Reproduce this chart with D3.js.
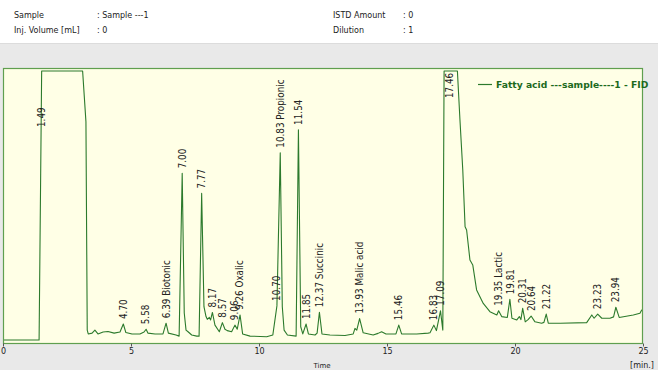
<!DOCTYPE html>
<html>
<head>
<meta charset="utf-8">
<script src="https://cdn.jsdelivr.net/npm/d3@7"></script>
<style>
  html, body { margin: 0; padding: 0; background: #e9e9e9; }
  svg { display: block; }
</style>
</head>
<body>
<svg id="chart" width="658" height="370"></svg>
<script>
// header info
const infoLeft = [["Sample", ": Sample ---1"], ["Inj. Volume [mL]", ": 0"]];
const infoRight = [["ISTD Amount", ": 0"], ["Dilution", ": 1"]];

// trace: retention time (min) and detector signal (% of full scale)
const traceTime = [0.00, 1.41, 1.51, 3.11, 3.24, 3.29, 3.33, 3.48, 3.59, 3.71, 3.91, 4.10, 4.34, 4.57, 4.70, 4.80,
  5.04, 5.35, 5.51, 5.59, 5.66, 5.94, 6.25, 6.37, 6.46, 6.76, 6.88, 7.00, 7.08, 7.15, 7.24, 7.37, 7.57, 7.66, 7.76,
  7.85, 7.93, 7.98, 8.06, 8.11, 8.18, 8.28, 8.45, 8.57, 8.67, 8.76, 8.93, 9.06, 9.15, 9.26, 9.36, 9.65, 10.30, 10.54,
  10.70, 10.83, 10.91, 10.98, 11.11, 11.45, 11.54, 11.63, 11.71, 11.84, 11.93, 12.19, 12.27, 12.36, 12.46, 12.77,
  13.36, 13.68, 13.75, 13.82, 13.93, 14.07, 14.46, 14.65, 14.79, 14.96, 15.12, 15.35, 15.46, 15.57, 16.16, 16.60,
  16.68, 16.83, 16.93, 17.09, 17.18, 17.23, 17.75, 17.85, 17.96, 18.05, 18.11, 18.24, 18.35, 18.50, 18.76, 19.02,
  19.29, 19.36, 19.48, 19.70, 19.80, 19.88, 20.07, 20.17, 20.23, 20.30, 20.40, 20.51, 20.63, 20.78, 21.04, 21.13,
  21.22, 21.30, 21.76, 22.80, 23.00, 23.09, 23.23, 23.39, 23.71, 23.85, 23.94, 24.07, 24.62, 24.88, 24.95, 25.00];
const traceSignal = [1.1, 1.1, 98.9, 98.9, 80.4, 4.7, 3.3, 3.6, 4.7, 3.3, 4.0, 4.2, 3.6, 4.0, 6.9, 3.8,
  3.3, 3.3, 4.0, 5.0, 3.6, 3.3, 3.3, 7.2, 3.6, 2.9, 2.5, 61.7, 10.9, 4.7, 4.0, 2.9, 2.5, 2.5, 54.4,
  13.2, 9.6, 8.6, 9.3, 8.4, 11.1, 6.5, 4.1, 7.4, 5.0, 4.5, 4.1, 6.5, 5.0, 10.2, 3.3, 2.5, 2.3, 2.9,
  13.5, 69.2, 13.2, 4.7, 2.9, 2.5, 77.5, 5.9, 3.3, 6.9, 3.3, 2.9, 3.6, 11.2, 3.3, 2.9,
  2.7, 3.3, 5.3, 4.7, 8.9, 3.7, 2.9, 3.5, 4.1, 3.3, 3.3, 3.3, 6.5, 3.3, 3.3, 3.6,
  3.7, 6.5, 4.5, 11.7, 4.7, 98.9, 98.9, 81.1, 62.9, 42.3, 41.1, 30.2, 28.4, 19.3, 14.4, 11.4,
  10.2, 11.7, 9.6, 9.3, 15.9, 9.0, 8.4, 9.6, 8.5, 12.6, 7.7, 8.5, 9.8, 7.7, 7.2, 7.5,
  10.5, 7.2, 7.2, 7.4, 10.2, 9.0, 10.5, 9.0, 9.0, 9.5, 13.0, 9.3, 10.2, 10.8, 12.0, 12.0];

// peak annotations
const peakTimes = [1.49, 4.70, 5.58, 6.39, 7.00, 7.77, 8.17, 8.57, 9.06, 9.26, 10.70, 10.83, 11.54, 11.85, 12.37,
  13.93, 15.46, 16.83, 17.09, 17.46, 19.35, 19.81, 20.31, 20.64, 21.22, 23.23, 23.94];
const peakNames = ["", "", "", "Biotonic", "", "", "", "", "", "Oxalic", "", "Propionic", "", "", "Succinic",
  "Malic acid", "", "", "", "", "Lactic", "", "", "", "", "", ""];

const xTicks = [0, 5, 10, 15, 20, 25];
const seriesName = "Fatty acid ---sample----1 - FID";

const svg = d3.select("#chart");
const W = 658, H = 370;
const plot = { left: 3, right: 643, top: 68, bottom: 343 };
const green = "#2c7a2c";

// header band
svg.append("rect").attr("x", 0).attr("y", 0).attr("width", W).attr("height", 43).attr("fill", "#ffffff");
svg.append("line").attr("x1", 0).attr("x2", W).attr("y1", 43.5).attr("y2", 43.5).attr("stroke", "#dcdcdc");

const info = svg.append("g").attr("font-family", "DejaVu Sans, sans-serif").attr("font-size", 8).attr("fill", "#222");
infoLeft.forEach((r, i) => {
  info.append("text").attr("x", 14).attr("y", 18 + i * 15).text(r[0]);
  info.append("text").attr("x", 97).attr("y", 18 + i * 15).text(r[1]);
});
infoRight.forEach((r, i) => {
  info.append("text").attr("x", 333).attr("y", 18 + i * 15).text(r[0]);
  info.append("text").attr("x", 403).attr("y", 18 + i * 15).text(r[1]);
});

// scales
const x = d3.scaleLinear().domain([0, 25]).range([plot.left, plot.right]);
const y = d3.scaleLinear().domain([0, 100]).range([plot.bottom, plot.top]);

// plot area
svg.append("rect")
  .attr("x", plot.left).attr("y", plot.top)
  .attr("width", plot.right - plot.left).attr("height", plot.bottom - plot.top)
  .attr("fill", "#ffffe6");

svg.append("clipPath").attr("id", "clip").append("rect")
  .attr("x", plot.left).attr("y", plot.top)
  .attr("width", plot.right - plot.left).attr("height", plot.bottom - plot.top);

const data = traceTime.map((t, i) => ({ t: t, v: traceSignal[i] }));
const line = d3.line().x(d => x(d.t)).y(d => y(d.v));

svg.append("path")
  .datum(data)
  .attr("clip-path", "url(#clip)")
  .attr("fill", "none")
  .attr("stroke", green)
  .attr("stroke-width", 1.1)
  .attr("stroke-linejoin", "round")
  .attr("d", line);

// border
svg.append("rect")
  .attr("x", plot.left + 0.5).attr("y", plot.top + 0.5)
  .attr("width", plot.right - plot.left - 1).attr("height", plot.bottom - plot.top)
  .attr("fill", "none").attr("stroke", "#5f9f4f").attr("stroke-width", 1.2);

// x axis
const xAxis = svg.append("g")
  .attr("transform", "translate(0," + (plot.bottom + 0.5) + ")")
  .call(d3.axisBottom(x).tickValues(xTicks).tickSize(3).tickPadding(2).tickFormat(d3.format("d")));
xAxis.select(".domain").remove();
xAxis.selectAll("line").attr("stroke", "#555");
xAxis.selectAll("text").attr("font-family", "DejaVu Sans, sans-serif").attr("font-size", 8).attr("fill", "#222");

svg.append("text").attr("x", 642).attr("y", 368).attr("text-anchor", "middle")
  .attr("font-family", "DejaVu Sans, sans-serif").attr("font-size", 8).attr("fill", "#222").text("[min.]");
svg.append("text").attr("x", 322).attr("y", 368).attr("text-anchor", "middle")
  .attr("font-family", "DejaVu Sans, sans-serif").attr("font-size", 7).attr("fill", "#222").text("Time");

// peak labels, placed above the apex found in the trace
function apexSignal(t) {
  let m = 0;
  data.forEach(d => { if (Math.abs(d.t - t) <= 0.06 && d.v > m) m = d.v; });
  return m;
}
const clippedOffset = { "1.49": 59, "17.46": 30 };

const labels = svg.append("g")
  .attr("font-family", "Liberation Sans Narrow, DejaVu Sans Condensed, sans-serif")
  .attr("font-size", 9.8)
  .attr("fill", "#222");

peakTimes.forEach((t, i) => {
  const txt = t.toFixed(2) + (peakNames[i] ? " " + peakNames[i] : "");
  const a = apexSignal(t);
  let py = y(a) - 5;
  const key = t.toFixed(2);
  if (clippedOffset[key] !== undefined) py = plot.top + clippedOffset[key];
  labels.append("text")
    .attr("transform", "translate(" + x(t) + "," + py + ") rotate(-90)")
    .attr("dy", "0.35em")
    .text(txt);
});

// legend
svg.append("line").attr("x1", 478).attr("x2", 492).attr("y1", 84.5).attr("y2", 84.5)
  .attr("stroke", green).attr("stroke-width", 1.2);
svg.append("text").attr("x", 496).attr("y", 88)
  .attr("font-family", "DejaVu Sans, sans-serif").attr("font-weight", "bold")
  .attr("font-size", 9.2).attr("fill", "#1d6a1d").text(seriesName);
</script>
</body>
</html>
